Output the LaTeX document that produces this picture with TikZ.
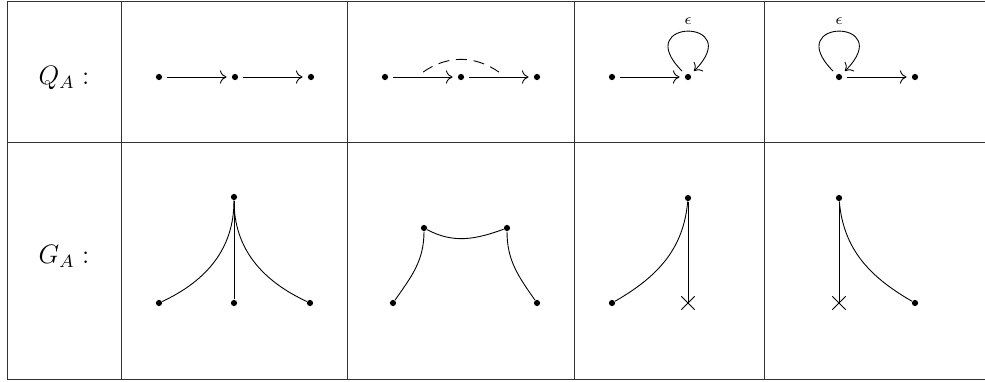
\documentclass[tikz,border=0pt]{standalone}
\usepackage{amsmath}
\usetikzlibrary{arrows.meta,positioning,shapes.misc}

\begin{document}
\begin{tikzpicture}[x=0.45pt, y=0.45pt, node distance=31pt,
    dot/.style={circle, fill, inner sep=0pt, minimum size=2.8pt},
    arr/.style={-{To[length=3pt,width=6pt]}, shorten <=2.2pt, shorten >=2.2pt},
    xmark/.style={cross out, draw, inner sep=0pt, minimum size=5.6pt}]
    \useasboundingbox (0,0) rectangle (985,381);

    % Table grid
    \foreach \y in {2,239,379.5} \draw [line width=0.45pt, black!80] (7,\y) -- (985,\y);
    \foreach \x in {7,121,347,574,764} \draw [line width=0.45pt, black!80] (\x,2) -- (\x,379.5);

    % Row labels
    \node [font=\large] (qlabel) at (64,303) {$Q_A :$};
    \node [font=\large] (glabel) at (64,125) {$G_A :$};

    % Q_A: path
    \node [dot] (a1) at (159,304) {};
    \node [dot, right=of a1] (a2) {};
    \node [dot, right=of a2] (a3) {};
    \draw [arr] (a1) -- (a2);
    \draw [arr] (a2) -- (a3);

    % Q_A: composite
    \node [dot] (b1) at (385,304) {};
    \node [dot, right=of b1] (b2) {};
    \node [dot, right=of b2] (b3) {};
    \draw [arr] (b1) -- coordinate[midway] (m1) (b2);
    \draw [arr] (b2) -- coordinate[midway] (m2) (b3);
    \draw [dash pattern=on 5pt off 3pt] ([yshift=2.2pt]m1) to[bend left=35] ([yshift=2.2pt]m2);

    % Q_A: loop at target
    \node [dot] (c1) at (612,304) {};
    \node [dot, right=of c1] (c2) {};
    \draw [arr] (c1) -- (c2);
    \draw [arr] (c2) to[out=135, in=45, min distance=36pt] node[above, font=\scriptsize] {$\epsilon$} (c2);

    % Q_A: loop at source
    \node [dot] (d1) at (839,304) {};
    \node [dot, right=of d1] (d2) {};
    \draw [arr] (d1) -- (d2);
    \draw [arr] (d1) to[out=135, in=45, min distance=36pt] node[above, font=\scriptsize] {$\epsilon$} (d1);

    % G_A: three branches
    \node [dot] (e0) at (234,184) {};
    \node [dot] (e1) at (159,78) {};
    \node [dot] (e2) at (234,78) {};
    \node [dot] (e3) at (310,78) {};
    \draw (e0) to[out=-90, in=25] (e1);
    \draw (e0) -- (e2);
    \draw (e0) to[out=-90, in=155] (e3);

    % G_A: bridge
    \node [dot] (f1) at (424,153) {};
    \node [dot] (f2) at (507,153) {};
    \node [dot] (f0) at (393,78) {};
    \node [dot] (f3) at (537,78) {};
    \draw (f1) to[out=-90, in=55] (f0);
    \draw (f1) to[out=-28, in=-160] (f2);
    \draw (f2) to[out=-90, in=125] (f3);

    % G_A: cut on the right
    \node [dot] (g0) at (688,183) {};
    \node [dot] (g1) at (612,78) {};
    \node [xmark] (gx) at (688,78) {};
    \draw (g0) to[out=-95, in=30] (g1);
    \draw (g0) -- (gx.center);

    % G_A: cut on the left
    \node [dot] (h0) at (839,183) {};
    \node [xmark] (hx) at (839,78) {};
    \node [dot] (h1) at (915,78) {};
    \draw (h0) -- (hx.center);
    \draw (h0) to[out=-85, in=150] (h1);
\end{tikzpicture}
\end{document}
